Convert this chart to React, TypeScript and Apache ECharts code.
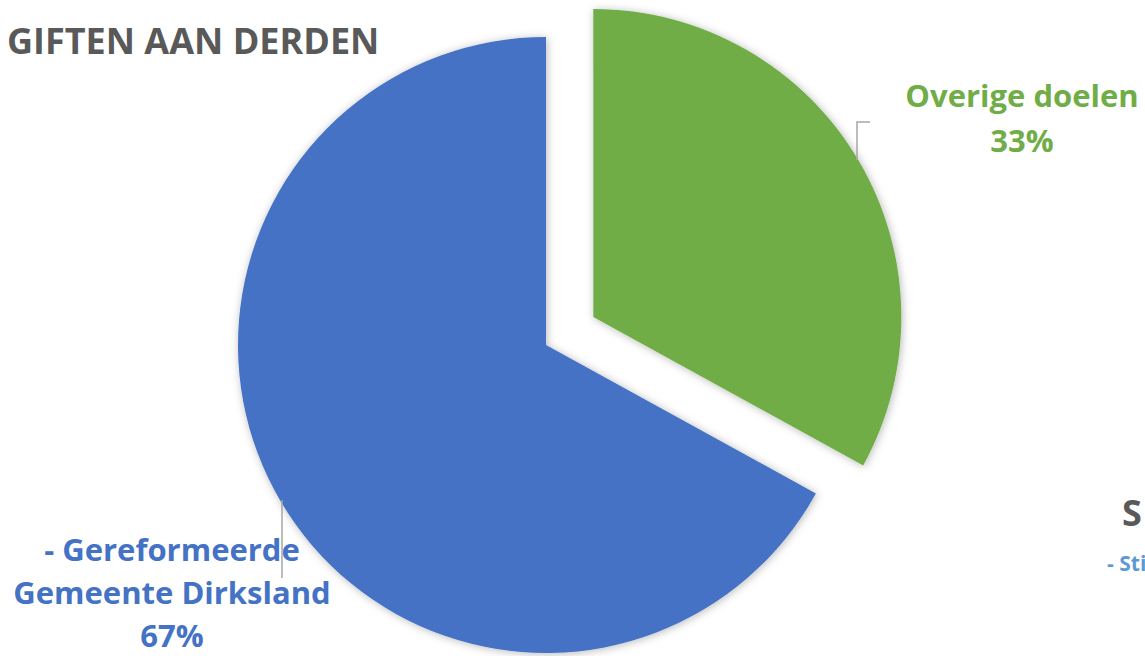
import React, { useEffect, useRef } from "react";
import * as echarts from "echarts";

const titleText = "GIFTEN AAN DERDEN";
const categories = ["Overige doelen", "- Gereformeerde\nGemeente Dirksland"];
const shares = [33, 67];
const sliceColors = ["#70AD47", "#4472C4"];
const sideTitle = "S";
const sideSub = "- Sti";

export default function App() {
  const ref = useRef<HTMLDivElement>(null);
  useEffect(() => {
    document.body.style.margin = "0";
    const chart = echarts.init(ref.current!, null, { renderer: "svg" });
    const font = "'Open Sans', 'Noto Sans', sans-serif";
    const total = shares.reduce((a, b) => a + b, 0);
    const labelText = (i: number) =>
      `${categories[i]}\n${Math.round((shares[i] / total) * 100)}%`;
    const labelPos = [
      { x: 1022, y: 117, lh: 45 },
      { x: 172, y: 592, lh: 43 },
    ];
    const linePts = [
      [
        [857, 160],
        [857, 122],
        [870, 122],
      ],
      [
        [282, 500],
        [282, 578],
      ],
    ];
    chart.setOption({
      animation: false,
      backgroundColor: "#ffffff",
      title: {
        text: titleText,
        left: 7,
        top: 22,
        padding: 0,
        textStyle: { fontFamily: font, fontSize: 36, fontWeight: "bold", color: "#595959" },
      },
      graphic: [
        ...categories.map((_, i) => ({
          type: "polyline",
          z: 10,
          shape: { points: linePts[i] },
          style: { stroke: "#A6A6A6", lineWidth: 1.5, fill: "none" },
        })),
        ...categories.map((_, i) => ({
          type: "text",
          z: 10,
          x: labelPos[i].x,
          y: labelPos[i].y,
          style: {
            text: labelText(i),
            fontFamily: font,
            fontSize: 31,
            fontWeight: "bold",
            lineHeight: labelPos[i].lh,
            fill: sliceColors[i],
            align: "center",
            verticalAlign: "middle",
          },
        })),
        {
          type: "text",
          x: 1122,
          y: 512,
          style: {
            text: sideTitle,
            fontFamily: font,
            fontSize: 36,
            fontWeight: "bold",
            fill: "#595959",
            verticalAlign: "middle",
          },
        },
        {
          type: "text",
          x: 1107,
          y: 563,
          style: {
            text: sideSub,
            fontFamily: font,
            fontSize: 21,
            fontWeight: "bold",
            fill: "#5B9BD5",
            verticalAlign: "middle",
          },
        },
      ],
      series: [
        {
          type: "pie",
          center: [546, 345],
          radius: 308,
          startAngle: 90,
          clockwise: true,
          selectedMode: "single",
          selectedOffset: 55,
          itemStyle: {
            shadowBlur: 8,
            shadowColor: "rgba(0,0,0,0.28)",
            shadowOffsetX: 1,
            shadowOffsetY: 1,
          },
          label: { show: false },
          labelLine: { show: false },
          emphasis: { disabled: true },
          data: categories.map((name, i) => ({
            name,
            value: shares[i],
            selected: i === 0,
            itemStyle: { color: sliceColors[i] },
            select: { itemStyle: { color: sliceColors[i] } },
          })),
        },
      ],
    });
    return () => chart.dispose();
  }, []);
  return (
    <div
      ref={ref}
      style={{ position: "absolute", left: 0, top: 0, width: 1145, height: 656 }}
    />
  );
}
